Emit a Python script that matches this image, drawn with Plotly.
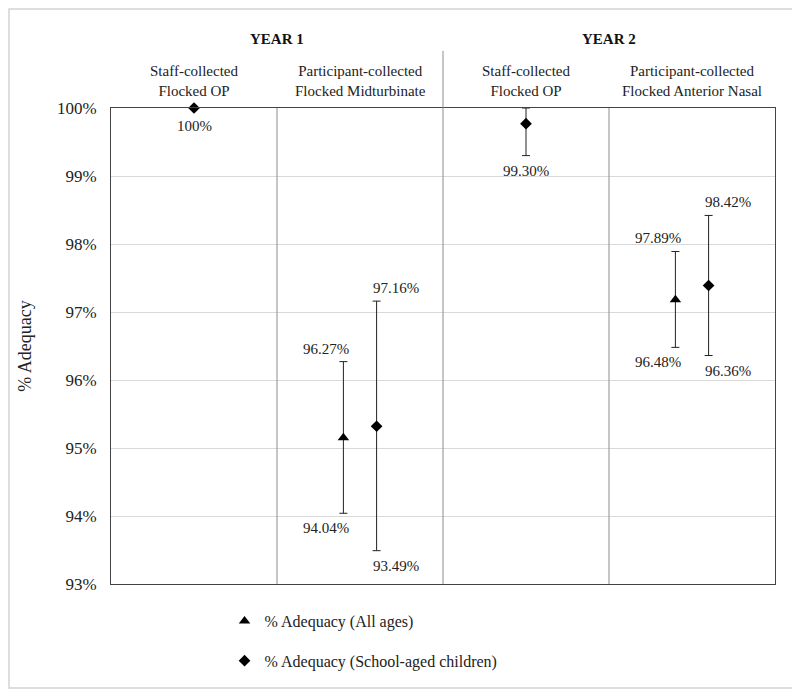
import plotly.graph_objects as go

# columns of the chart (x positions 0..4, one unit per column)
columns = [
    "Staff-collected<br>Flocked OP",
    "Participant-collected<br>Flocked Midturbinate",
    "Staff-collected<br>Flocked OP",
    "Participant-collected<br>Flocked Anterior Nasal",
]
years = ["YEAR 1", "YEAR 2"]

# % adequacy, all ages (triangles)
all_col = [1, 3]
all_val = [95.15, 97.18]
all_lo = [94.04, 96.48]
all_hi = [96.27, 97.89]

# % adequacy, school-aged children (diamonds)
kid_col = [0, 1, 2, 3]
kid_val = [100.0, 95.32, 99.77, 97.39]
kid_lo = [None, 93.49, 99.30, 96.36]
kid_hi = [None, 97.16, 100.0, 98.42]

FONT = "Liberation Serif"
TXT = "#222222"
OFF = 0.1

fig = go.Figure()


def add_series(cols, vals, lo, hi, name, symbol, size, shift):
    single = [c not in all_col for c in cols] if shift > 0 else [False] * len(cols)
    xs = [c + 0.5 + (0 if s else shift) for c, s in zip(cols, single)]
    plus = [(h - v) if h is not None else 0 for v, h in zip(vals, hi)]
    minus = [(v - l) if l is not None else 0 for v, l in zip(vals, lo)]
    fig.add_trace(go.Scatter(
        x=xs, y=vals, mode="markers", name=name,
        legendgroup=name,
        marker=dict(symbol=symbol, size=size, color="black"),
        error_y=dict(type="data", symmetric=False, array=plus, arrayminus=minus,
                     color="#222222", thickness=1, width=4),
        cliponaxis=False,
    ))
    # data labels for the interval ends
    for x, v, l, h, s in zip(xs, vals, lo, hi, single):
        xsh = 0 if s else (19 if shift > 0 else -17)
        if h is not None and h < 100:
            fig.add_annotation(x=x, y=h, text=f"{h:.2f}%", showarrow=False,
                               yanchor="bottom", yshift=3, xshift=xsh,
                               font=dict(family=FONT, size=15, color=TXT))
        if l is not None:
            fig.add_annotation(x=x, y=l, text=f"{l:.2f}%", showarrow=False,
                               yanchor="top", yshift=-5, xshift=xsh,
                               font=dict(family=FONT, size=15, color=TXT))
        if l is None:
            fig.add_annotation(x=x, y=v, text=f"{v:.0f}%", showarrow=False,
                               yanchor="top", yshift=-8, xshift=xsh,
                               font=dict(family=FONT, size=15, color=TXT))


add_series(all_col, all_val, all_lo, all_hi, "% Adequacy (All ages)", "triangle-up", 10, -OFF)
add_series(kid_col, kid_val, kid_lo, kid_hi, "% Adequacy (School-aged children)", "diamond", 9, OFF)

# column headers
for i, c in enumerate(columns):
    fig.add_annotation(x=i + 0.5, y=1.014, yref="paper", text=c, showarrow=False,
                       yanchor="bottom", font=dict(family=FONT, size=15, color=TXT))
for i, yl in enumerate(years):
    fig.add_annotation(x=2 * i + 1, y=1.123, yref="paper", text=f"<b>{yl}</b>",
                       showarrow=False, yanchor="bottom",
                       font=dict(family=FONT, size=15, color="#111"))

# column dividers
for xd in [1, 3]:
    fig.add_shape(type="line", x0=xd, x1=xd, y0=0, y1=1, yref="paper",
                  line=dict(color="#8c8c8c", width=1))
fig.add_shape(type="line", x0=2, x1=2, y0=0, y1=1.12, yref="paper",
              line=dict(color="#8c8c8c", width=1))

# outer frame
fig.add_shape(type="rect", xref="paper", yref="paper",
              x0=(1 - 103) / 664, x1=(789 - 103) / 664,
              y0=(576 - 680) / 476, y1=(576 - 1) / 476,
              line=dict(color="#d4d4d4", width=1.5))

fig.update_layout(
    width=792, height=682,
    margin=dict(l=103, r=25, t=100, b=106),
    plot_bgcolor="white", paper_bgcolor="white",
    font=dict(family=FONT, size=15, color=TXT),
    showlegend=True,
    legend=dict(x=0.171, y=-0.042, xanchor="left", yanchor="top",
                traceorder="grouped", tracegroupgap=16,
                font=dict(family=FONT, size=16, color=TXT),
                itemwidth=30),
    xaxis=dict(range=[0, 4], showticklabels=False, showgrid=False, zeroline=False,
               showline=True, linecolor="#444", mirror=True, ticks=""),
    yaxis=dict(range=[93, 100], dtick=1, ticksuffix="%", showgrid=True,
               gridcolor="#d9d9d9", zeroline=False, showline=True, linecolor="#444",
               mirror=True, ticks="", ticklabelstandoff=10,
               tickfont=dict(family=FONT, size=17, color=TXT),
               title=dict(text="% Adequacy", standoff=20,
                          font=dict(family=FONT, size=18, color=TXT))),
)

fig.write_html("out.html")
